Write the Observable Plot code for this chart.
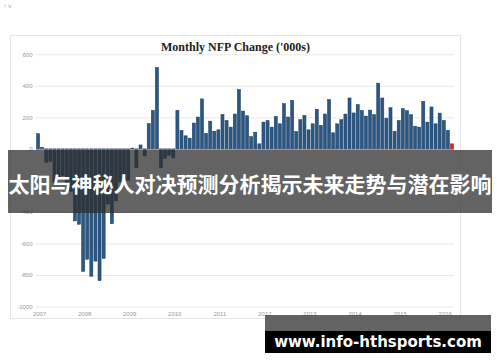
<!DOCTYPE html>
<html>
<head>
<meta charset="utf-8">
<script src="https://cdn.jsdelivr.net/npm/d3@7"></script>
<script src="https://cdn.jsdelivr.net/npm/@observablehq/plot@0.6"></script>
<style>
  html, body { margin: 0; padding: 0; background: #fff; }
  #wrap { position: relative; width: 500px; height: 362px; overflow: hidden; background: #fff; }
  #frame { position: absolute; left: 10px; top: 35px; width: 451px; height: 284px; border: 1px solid #e6e6e6; box-sizing: border-box; }
  #chart { position: absolute; left: 0; top: 0; }
  #title { position: absolute; left: 0; width: 471px; top: 41px; text-align: center; font: bold 12px "Liberation Serif", "DejaVu Serif", serif; color: #222; line-height: 13px; }
  #banner { position: absolute; left: 8px; top: 150px; width: 484px; height: 63px; background: rgba(45,45,45,0.74); color: #fff; font: bold 21px "Noto Sans CJK SC", sans-serif; display: flex; align-items: center; justify-content: center; white-space: nowrap; padding-top: 3px; box-sizing: border-box; }
  #wm-top { position: absolute; left: 265px; top: 315px; width: 226px; height: 16px; background: rgba(60,60,60,0.8); }
  #wm { position: absolute; left: 265px; top: 331px; width: 226px; height: 22px; background: #000; color: #fff; font: bold 15px "DejaVu Sans", sans-serif; display: flex; align-items: center; justify-content: center; white-space: nowrap; }
</style>
</head>
<body>
<div id="wrap">
  <div id="frame"></div>
  <div id="chart"></div>
  <div id="title"></div>
  <div id="banner"></div>
  <div id="wm-top"></div>
  <div id="wm"></div>
</div>
<script>
// Monthly NFP change ('000s), one bar per month, Dec 2007 .. May 2016
const nfpValues = [96, 10, -85, -80, -215, -185, -170, -215, -270, -457, -478, -777, -700, -808, -712, -836, -695, -350, -475, -330, -210, -220, -200, 5, -120, 25, -45, 160, 244, 517, -120, -60, -40, -57, 244, 117, 83, 68, 164, 202, 317, 98, 176, 112, 121, 218, 180, 138, 221, 376, 240, 210, 78, 106, 32, 170, 180, 138, 206, 159, 287, 202, 308, 110, 185, 212, 121, 159, 251, 149, 221, 313, 102, 159, 185, 221, 323, 228, 281, 244, 208, 246, 217, 417, 323, 195, 261, 112, 180, 255, 242, 217, 144, 138, 300, 170, 266, 159, 227, 180, 117, 32];
// last bar highlighted
const highlightIndex = [101];
const yGrid = [-1000, -800, -600, -400, -200, 200, 400, 600];
// the -200 label sits under the banner in the reference
const yTickLabels = [-1000, -800, -600, -400, 0, 200, 400, 600];
const xTickLabels = ["2007", "2008", "2009", "2010", "2011", "2012", "2013", "2014", "2015", "2016"];
const xTickIndex = [0, 11, 22, 33, 44, 55, 66, 77, 88, 99];
const titleText = "Monthly NFP Change ('000s)";
const bannerText = "太阳与神秘人对决预测分析揭示未来走势与潜在影响";
const watermarkText = "www.info-hthsports.com";

const bars = nfpValues.map((v, i) => ({i, v, hi: highlightIndex.includes(i)}));
const xt = xTickLabels.map((label, k) => ({label, i: xTickIndex[k]}));

const plot = Plot.plot({
  width: 500,
  height: 362,
  marginLeft: 36,
  marginRight: 46,
  marginTop: 54.3,
  marginBottom: 55.5,
  x: {domain: [-0.5, nfpValues.length - 0.5], axis: null},
  y: {domain: [-1000, 600], axis: null},
  style: {fontFamily: "'Liberation Sans', Arial, sans-serif", background: "transparent", overflow: "visible"},
  marks: [
    Plot.ruleY(yGrid, {stroke: "#e9e9e9", strokeWidth: 1}),
    Plot.axisY({ticks: yTickLabels, tickSize: 0, tickPadding: 4, fontSize: 6, fill: "#9a9a9a", tickFormat: d => String(d)}),
    Plot.rectY(bars, {x1: d => d.i - 0.3, x2: d => d.i + 0.5, y: "v", fill: "#c8c8c8", fillOpacity: 0.5}),
    Plot.rectY(bars, {x1: d => d.i - 0.37, x2: d => d.i + 0.37, y: "v", fill: d => d.hi ? "#d42a20" : "#2b5784", stroke: d => d.hi ? "#a81c14" : "#1d3f63", strokeWidth: 0.5}),
    Plot.ruleY([0], {stroke: "#c25a5a", strokeWidth: 0.8}),
    Plot.text(xt, {x: "i", y: () => -1000, text: "label", dx: 1, dy: 7, fontSize: 6, fill: "#9a9a9a"})
  ]
});
document.getElementById("chart").appendChild(plot);
document.getElementById("title").textContent = titleText;
document.getElementById("banner").textContent = bannerText;
document.getElementById("wm").textContent = watermarkText;
</script>
</body>
</html>
